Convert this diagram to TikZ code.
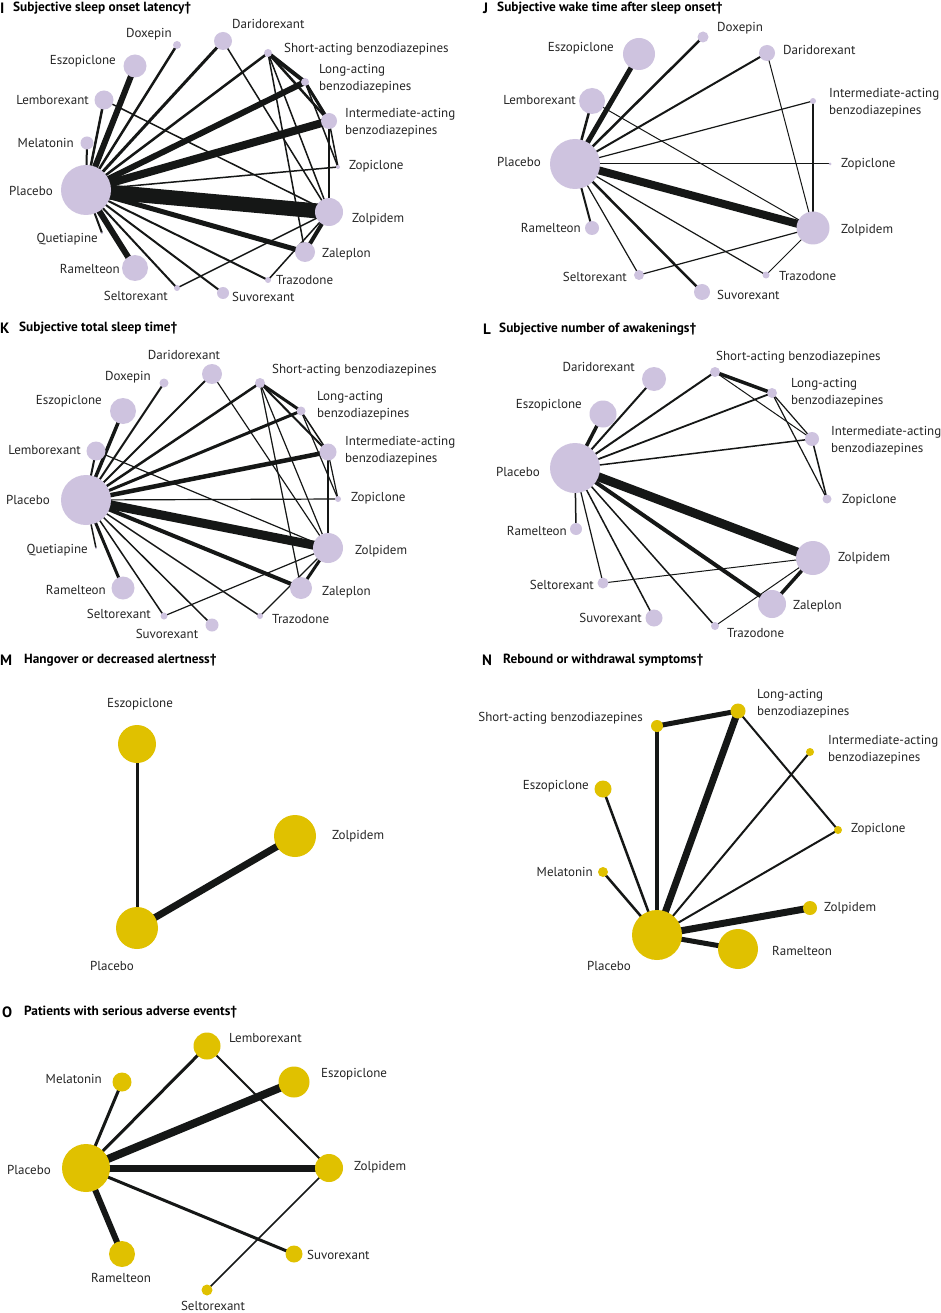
\documentclass[tikz,border=0pt]{standalone}
\usepackage{fontspec}
\setmainfont{PT Sans}
\usetikzlibrary{backgrounds}
\definecolor{lav}{HTML}{CEC3DF}
\definecolor{gold}{HTML}{E0C100}
\definecolor{edgec}{HTML}{151716}
\tikzset{
  pn/.style={circle, fill=lav, draw=none, inner sep=0pt, minimum size=#1},
  yn/.style={circle, fill=gold, draw=none, inner sep=0pt, minimum size=#1},
  lbl/.style={font=\fontsize{13}{17}\selectfont, inner sep=0pt, align=left, text=black!85},
  ttl/.style={font=\bfseries\fontsize{13.3}{14}\selectfont, inner sep=0pt, anchor=west},
  plet/.style={font=\bfseries\fontsize{15}{16}\selectfont, inner sep=0pt, anchor=west},
  edg/.style={draw=edgec, line width=#1, line cap=butt},
}
\begin{document}
\begin{tikzpicture}[x=1pt,y=-1pt]
\useasboundingbox (0,0) rectangle (940,1313);
\begin{scope}[on background layer]
\fill[white] (0,0) rectangle (940,1313);
\end{scope}

% ================= Panel I =================
\node[plet] (letI) at (0,8) {I};
\node[ttl] (ttlI) at (13,8) {Subjective sleep onset latency\textdagger};
\node[pn=50] (iPla) at (86,190) {};
\node[pn=8]  (iDox) at (177,45) {};
\node[pn=18] (iDar) at (223,41) {};
\node[pn=8]  (iSho) at (268,53) {};
\node[pn=8]  (iLon) at (305,82) {};
\node[pn=16] (iInt) at (329,121) {};
\node[pn=4]  (iZop) at (338,167) {};
\node[pn=28] (iZol) at (329,212) {};
\node[pn=20] (iZal) at (305,252) {};
\node[pn=6]  (iTra) at (268,280) {};
\node[pn=12] (iSuv) at (223,293) {};
\node[pn=6]  (iSel) at (177,288) {};
\node[pn=26] (iRam) at (135,268) {};
\node[pn=2]  (iQue) at (102,233) {};
\node[pn=13] (iMel) at (87,143) {};
\node[pn=19] (iLem) at (104,100) {};
\node[pn=23] (iEsz) at (135,66) {};
\node[lbl,anchor=east] (iDoxL) at (172,34) {Doxepin};
\node[lbl,anchor=west] (iDarL) at (232,24) {Daridorexant};
\node[lbl,anchor=west] (iShoL) at (284,49) {Short-acting benzodiazepines};
\node[lbl,anchor=west] (iLonL) at (319,79) {Long-acting\\benzodiazepines};
\node[lbl,anchor=west] (iIntL) at (345,123) {Intermediate-acting\\benzodiazepines};
\node[lbl,anchor=west] (iZopL) at (349,166) {Zopiclone};
\node[lbl,anchor=west] (iZolL) at (352,219) {Zolpidem};
\node[lbl,anchor=west] (iZalL) at (322,254) {Zaleplon};
\node[lbl,anchor=west] (iTraL) at (276,280) {Trazodone};
\node[lbl,anchor=west] (iSuvL) at (232,297) {Suvorexant};
\node[lbl,anchor=east] (iSelL) at (168,296) {Seltorexant};
\node[lbl,anchor=east] (iRamL) at (120,269) {Ramelteon};
\node[lbl,anchor=east] (iQueL) at (98,239) {Quetiapine};
\node[lbl,anchor=east] (iPlaL) at (53,191) {Placebo};
\node[lbl,anchor=east] (iMelL) at (74,143) {Melatonin};
\node[lbl,anchor=east] (iLemL) at (89,100) {Lemborexant};
\node[lbl,anchor=east] (iEszL) at (116,61) {Eszopiclone};
\begin{scope}[on background layer]
\draw[edg=6]   (iPla.center) -- (iEsz.center);
\draw[edg=2.5] (iPla.center) -- (iLem.center);
\draw[edg=2]   (iPla.center) -- (iMel.center);
\draw[edg=2.5] (iPla.center) -- (iDox.center);
\draw[edg=3]   (iPla.center) -- (iDar.center);
\draw[edg=2.5] (iPla.center) -- (iSho.center);
\draw[edg=6]   (iPla.center) -- (iLon.center);
\draw[edg=8]   (iPla.center) -- (iInt.center);
\draw[edg=1.5] (iPla.center) -- (iZop.center);
\draw[edg=15]  (iPla.center) -- (iZol.center);
\draw[edg=5]   (iPla.center) -- (iZal.center);
\draw[edg=2]   (iPla.center) -- (iTra.center);
\draw[edg=2]   (iPla.center) -- (iSuv.center);
\draw[edg=2]   (iPla.center) -- (iSel.center);
\draw[edg=6]   (iPla.center) -- (iRam.center);
\draw[edg=2]   (iPla.center) -- (iQue.center);
\draw[edg=1.5] (iLem.center) -- (iZol.center);
\draw[edg=1.5] (iDar.center) -- (iZol.center);
\draw[edg=4]   (iSho.center) -- (iLon.center);
\draw[edg=2.5] (iSho.center) -- (iInt.center);
\draw[edg=1.5] (iSho.center) -- (iZol.center);
\draw[edg=1.5] (iSho.center) -- (iZal.center);
\draw[edg=3]   (iLon.center) -- (iInt.center);
\draw[edg=1.5] (iLon.center) -- (iZop.center);
\draw[edg=1.5] (iInt.center) -- (iZop.center);
\draw[edg=1.5] (iInt.center) -- (iZol.center);
\draw[edg=4]   (iZol.center) -- (iZal.center);
\draw[edg=1.5] (iZol.center) -- (iSel.center);
\draw[edg=1.5] (iZol.center) -- (iTra.center);
\end{scope}

% ================= Panel J =================
\node[plet] (letJ) at (483,8) {J};
\node[ttl] (ttlJ) at (497,8) {Subjective wake time after sleep onset\textdagger};
\node[pn=50] (jPla) at (575,164) {};
\node[pn=11] (jDox) at (703,37) {};
\node[pn=16] (jDar) at (767,53) {};
\node[pn=6]  (jInt) at (813,101) {};
\node[pn=3]  (jZop) at (830,164) {};
\node[pn=33] (jZol) at (813,228) {};
\node[pn=7]  (jTra) at (766,275) {};
\node[pn=16] (jSuv) at (702,292) {};
\node[pn=10] (jSel) at (639,275) {};
\node[pn=14] (jRam) at (592,228) {};
\node[pn=26] (jLem) at (592,101) {};
\node[pn=32] (jEsz) at (639,54) {};
\node[lbl,anchor=west] (jDoxL) at (717,28) {Doxepin};
\node[lbl,anchor=west] (jDarL) at (783,50) {Daridorexant};
\node[lbl,anchor=west] (jIntL) at (829,103) {Intermediate-acting\\benzodiazepines};
\node[lbl,anchor=west] (jZopL) at (841,164) {Zopiclone};
\node[lbl,anchor=west] (jZolL) at (841,230) {Zolpidem};
\node[lbl,anchor=west] (jTraL) at (779,276) {Trazodone};
\node[lbl,anchor=west] (jSuvL) at (717,295) {Suvorexant};
\node[lbl,anchor=east] (jSelL) at (627,277) {Seltorexant};
\node[lbl,anchor=east] (jRamL) at (581,228) {Ramelteon};
\node[lbl,anchor=east] (jPlaL) at (541,162) {Placebo};
\node[lbl,anchor=east] (jLemL) at (576,100) {Lemborexant};
\node[lbl,anchor=east] (jEszL) at (614,48) {Eszopiclone};
\begin{scope}[on background layer]
\draw[edg=5]   (jPla.center) -- (jEsz.center);
\draw[edg=2.5] (jPla.center) -- (jLem.center);
\draw[edg=2.5] (jPla.center) -- (jDox.center);
\draw[edg=2]   (jPla.center) -- (jDar.center);
\draw[edg=1.2] (jPla.center) -- (jInt.center);
\draw[edg=1]   (jPla.center) -- (jZop.center);
\draw[edg=8]   (jPla.center) -- (jZol.center);
\draw[edg=1.2] (jPla.center) -- (jTra.center);
\draw[edg=2.5] (jPla.center) -- (jSuv.center);
\draw[edg=1.2] (jPla.center) -- (jSel.center);
\draw[edg=2]   (jPla.center) -- (jRam.center);
\draw[edg=1]   (jLem.center) -- (jZol.center);
\draw[edg=1]   (jDar.center) -- (jZol.center);
\draw[edg=1.2] (jInt.center) -- (jZol.center);
\draw[edg=1.2] (jZol.center) -- (jSel.center);
\draw[edg=1]   (jZol.center) -- (jTra.center);
\end{scope}

% ================= Panel K =================
\node[plet] (letK) at (0,328) {K};
\node[ttl] (ttlK) at (19,328) {Subjective total sleep time\textdagger};
\node[pn=50] (kPla) at (86,500) {};
\node[pn=9]  (kDox) at (164,383) {};
\node[pn=20] (kDar) at (212,374) {};
\node[pn=10] (kSho) at (260,383) {};
\node[pn=9]  (kLon) at (301,411) {};
\node[pn=17] (kInt) at (328,452) {};
\node[pn=6]  (kZop) at (338,499) {};
\node[pn=30] (kZol) at (328,548) {};
\node[pn=22] (kZal) at (301,588) {};
\node[pn=6]  (kTra) at (260,616) {};
\node[pn=13] (kSuv) at (212,625) {};
\node[pn=7]  (kSel) at (164,616) {};
\node[pn=23] (kRam) at (123,588) {};
\node[pn=2]  (kQue) at (96,548) {};
\node[pn=19] (kLem) at (96,451) {};
\node[pn=26] (kEsz) at (123,411) {};
\node[lbl,anchor=center] (kDarL) at (184,355) {Daridorexant};
\node[lbl,anchor=east] (kDoxL) at (151,377) {Doxepin};
\node[lbl,anchor=east] (kEszL) at (102,401) {Eszopiclone};
\node[lbl,anchor=east] (kLemL) at (81,450) {Lemborexant};
\node[lbl,anchor=east] (kPlaL) at (50,500) {Placebo};
\node[lbl,anchor=east] (kQueL) at (88,550) {Quetiapine};
\node[lbl,anchor=east] (kRamL) at (106,590) {Ramelteon};
\node[lbl,anchor=east] (kSelL) at (151,614) {Seltorexant};
\node[lbl,anchor=center] (kSuvL) at (167,634) {Suvorexant};
\node[lbl,anchor=west] (kTraL) at (272,619) {Trazodone};
\node[lbl,anchor=west] (kZalL) at (322,592) {Zaleplon};
\node[lbl,anchor=west] (kZolL) at (355,551) {Zolpidem};
\node[lbl,anchor=west] (kZopL) at (351,498) {Zopiclone};
\node[lbl,anchor=west] (kIntL) at (345,451) {Intermediate-acting\\benzodiazepines};
\node[lbl,anchor=west] (kLonL) at (317,406) {Long-acting\\benzodiazepines};
\node[lbl,anchor=west] (kShoL) at (272,370) {Short-acting benzodiazepines};
\begin{scope}[on background layer]
\draw[edg=3.5] (kPla.center) -- (kEsz.center);
\draw[edg=2]   (kPla.center) -- (kLem.center);
\draw[edg=2]   (kPla.center) -- (kDox.center);
\draw[edg=2]   (kPla.center) -- (kDar.center);
\draw[edg=2.5] (kPla.center) -- (kSho.center);
\draw[edg=3]   (kPla.center) -- (kLon.center);
\draw[edg=4.5] (kPla.center) -- (kInt.center);
\draw[edg=1.2] (kPla.center) -- (kZop.center);
\draw[edg=9]   (kPla.center) -- (kZol.center);
\draw[edg=4]   (kPla.center) -- (kZal.center);
\draw[edg=1.5] (kPla.center) -- (kTra.center);
\draw[edg=1.5] (kPla.center) -- (kSuv.center);
\draw[edg=1.5] (kPla.center) -- (kSel.center);
\draw[edg=3]   (kPla.center) -- (kRam.center);
\draw[edg=1.5] (kPla.center) -- (kQue.center);
\draw[edg=1.2] (kLem.center) -- (kZol.center);
\draw[edg=1.2] (kDar.center) -- (kZol.center);
\draw[edg=3]   (kSho.center) -- (kLon.center);
\draw[edg=2]   (kSho.center) -- (kInt.center);
\draw[edg=1.2] (kSho.center) -- (kZol.center);
\draw[edg=1.2] (kSho.center) -- (kZal.center);
\draw[edg=1.5] (kLon.center) -- (kInt.center);
\draw[edg=1.2] (kLon.center) -- (kZop.center);
\draw[edg=1.2] (kInt.center) -- (kZop.center);
\draw[edg=1.2] (kInt.center) -- (kZol.center);
\draw[edg=3]   (kZol.center) -- (kZal.center);
\draw[edg=1.2] (kZol.center) -- (kSel.center);
\draw[edg=1.2] (kZol.center) -- (kTra.center);
\end{scope}

% ================= Panel L =================
\node[plet] (letL) at (483,329) {L};
\node[ttl] (ttlL) at (499,329) {Subjective number of awakenings\textdagger};
\node[pn=50] (lPla) at (575,468) {};
\node[pn=24] (lDar) at (654,379) {};
\node[pn=27] (lEsz) at (603,414) {};
\node[pn=10] (lSho) at (715,372) {};
\node[pn=10] (lLon) at (772,393) {};
\node[pn=14] (lInt) at (812,439) {};
\node[pn=9]  (lZop) at (827,499) {};
\node[pn=34] (lZol) at (813,558) {};
\node[pn=28] (lZal) at (772,604) {};
\node[pn=8]  (lTra) at (715,626) {};
\node[pn=17] (lSuv) at (654,618) {};
\node[pn=11] (lSel) at (603,583) {};
\node[pn=12] (lRam) at (576,529) {};
\node[lbl,anchor=west] (lShoL) at (716,357) {Short-acting benzodiazepines};
\node[lbl,anchor=east] (lDarL) at (635,367) {Daridorexant};
\node[lbl,anchor=west] (lLonL) at (791,393) {Long-acting\\benzodiazepines};
\node[lbl,anchor=east] (lEszL) at (582,405) {Eszopiclone};
\node[lbl,anchor=west] (lIntL) at (831,441) {Intermediate-acting\\benzodiazepines};
\node[lbl,anchor=east] (lPlaL) at (540,472) {Placebo};
\node[lbl,anchor=west] (lZopL) at (842,500) {Zopiclone};
\node[lbl,anchor=east] (lRamL) at (567,531) {Ramelteon};
\node[lbl,anchor=west] (lZolL) at (838,558) {Zolpidem};
\node[lbl,anchor=east] (lSelL) at (594,585) {Seltorexant};
\node[lbl,anchor=west] (lZalL) at (793,606) {Zaleplon};
\node[lbl,anchor=east] (lSuvL) at (642,618) {Suvorexant};
\node[lbl,anchor=west] (lTraL) at (727,633) {Trazodone};
\begin{scope}[on background layer]
\draw[edg=2]   (lPla.center) -- (lDar.center);
\draw[edg=3.5] (lPla.center) -- (lEsz.center);
\draw[edg=2]   (lPla.center) -- (lSho.center);
\draw[edg=1.8] (lPla.center) -- (lLon.center);
\draw[edg=1.5] (lPla.center) -- (lInt.center);
\draw[edg=9]   (lPla.center) -- (lZol.center);
\draw[edg=4]   (lPla.center) -- (lZal.center);
\draw[edg=1.5] (lPla.center) -- (lTra.center);
\draw[edg=1.5] (lPla.center) -- (lSuv.center);
\draw[edg=1.2] (lPla.center) -- (lSel.center);
\draw[edg=1.5] (lPla.center) -- (lRam.center);
\draw[edg=3.5] (lSho.center) -- (lLon.center);
\draw[edg=1]   (lSho.center) -- (lInt.center);
\draw[edg=1.2] (lLon.center) -- (lInt.center);
\draw[edg=1.2] (lLon.center) -- (lZop.center);
\draw[edg=1.5] (lInt.center) -- (lZop.center);
\draw[edg=3.5] (lZol.center) -- (lZal.center);
\draw[edg=1]   (lZol.center) -- (lSel.center);
\draw[edg=1]   (lZol.center) -- (lTra.center);
\end{scope}

% ================= Panel M =================
\node[plet] (letM) at (0,660) {M};
\node[ttl] (ttlM) at (24,660) {Hangover or decreased alertness\textdagger};
\node[yn=38] (mEsz) at (137,744) {};
\node[yn=42] (mZol) at (295,836) {};
\node[yn=42] (mPla) at (137,928) {};
\node[lbl,anchor=center] (mEszL) at (140,704) {Eszopiclone};
\node[lbl,anchor=west] (mZolL) at (332,836) {Zolpidem};
\node[lbl,anchor=center] (mPlaL) at (112,966) {Placebo};
\begin{scope}[on background layer]
\draw[edg=3] (mEsz.center) -- (mPla.center);
\draw[edg=7] (mPla.center) -- (mZol.center);
\end{scope}

% ================= Panel N =================
\node[plet] (letN) at (482,660) {N};
\node[ttl] (ttlN) at (503,660) {Rebound or withdrawal symptoms\textdagger};
\node[yn=12] (nSho) at (657,726) {};
\node[yn=15] (nLon) at (738,711) {};
\node[yn=8]  (nInt) at (810,752) {};
\node[yn=17] (nEsz) at (603,789) {};
\node[yn=8]  (nZop) at (838,830) {};
\node[yn=10] (nMel) at (603,872) {};
\node[yn=14] (nZol) at (810,908) {};
\node[yn=50] (nPla) at (657,935) {};
\node[yn=40] (nRam) at (738,949) {};
\node[lbl,anchor=west] (nLonL) at (757,704) {Long-acting\\benzodiazepines};
\node[lbl,anchor=east] (nShoL) at (643,718) {Short-acting benzodiazepines};
\node[lbl,anchor=west] (nIntL) at (828,750) {Intermediate-acting\\benzodiazepines};
\node[lbl,anchor=east] (nEszL) at (589,786) {Eszopiclone};
\node[lbl,anchor=west] (nZopL) at (851,829) {Zopiclone};
\node[lbl,anchor=east] (nMelL) at (593,872) {Melatonin};
\node[lbl,anchor=west] (nZolL) at (824,908) {Zolpidem};
\node[lbl,anchor=west] (nRamL) at (772,951) {Ramelteon};
\node[lbl,anchor=center] (nPlaL) at (609,966) {Placebo};
\begin{scope}[on background layer]
\draw[edg=5]   (nSho.center) -- (nLon.center);
\draw[edg=4]   (nSho.center) -- (nPla.center);
\draw[edg=7]   (nLon.center) -- (nPla.center);
\draw[edg=2]   (nLon.center) -- (nZop.center);
\draw[edg=2]   (nInt.center) -- (nPla.center);
\draw[edg=2]   (nZop.center) -- (nPla.center);
\draw[edg=2.5] (nEsz.center) -- (nPla.center);
\draw[edg=2.5] (nMel.center) -- (nPla.center);
\draw[edg=7]   (nZol.center) -- (nPla.center);
\draw[edg=5]   (nRam.center) -- (nPla.center);
\end{scope}

% ================= Panel O =================
\node[plet] (letO) at (2,1012) {O};
\node[ttl] (ttlO) at (24,1012) {Patients with serious adverse events\textdagger};
\node[yn=27] (oLem) at (207,1046) {};
\node[yn=19] (oMel) at (122,1082) {};
\node[yn=31] (oEsz) at (294,1082) {};
\node[yn=48] (oPla) at (86,1168) {};
\node[yn=28] (oZol) at (329,1168) {};
\node[yn=26] (oRam) at (122,1254) {};
\node[yn=17] (oSuv) at (294,1254) {};
\node[yn=11] (oSel) at (207,1290) {};
\node[lbl,anchor=west] (oLemL) at (229,1038) {Lemborexant};
\node[lbl,anchor=east] (oMelL) at (102,1079) {Melatonin};
\node[lbl,anchor=west] (oEszL) at (321,1074) {Eszopiclone};
\node[lbl,anchor=east] (oPlaL) at (51,1170) {Placebo};
\node[lbl,anchor=west] (oZolL) at (354,1167) {Zolpidem};
\node[lbl,anchor=center] (oRamL) at (121,1278) {Ramelteon};
\node[lbl,anchor=west] (oSuvL) at (307,1255) {Suvorexant};
\node[lbl,anchor=center] (oSelL) at (213,1306) {Seltorexant};
\begin{scope}[on background layer]
\draw[edg=3]   (oPla.center) -- (oMel.center);
\draw[edg=3]   (oPla.center) -- (oLem.center);
\draw[edg=8]   (oPla.center) -- (oEsz.center);
\draw[edg=7]   (oPla.center) -- (oZol.center);
\draw[edg=3]   (oPla.center) -- (oSuv.center);
\draw[edg=6]   (oPla.center) -- (oRam.center);
\draw[edg=2]   (oLem.center) -- (oZol.center);
\draw[edg=1.5] (oZol.center) -- (oSel.center);
\end{scope}
\end{tikzpicture}
\end{document}
